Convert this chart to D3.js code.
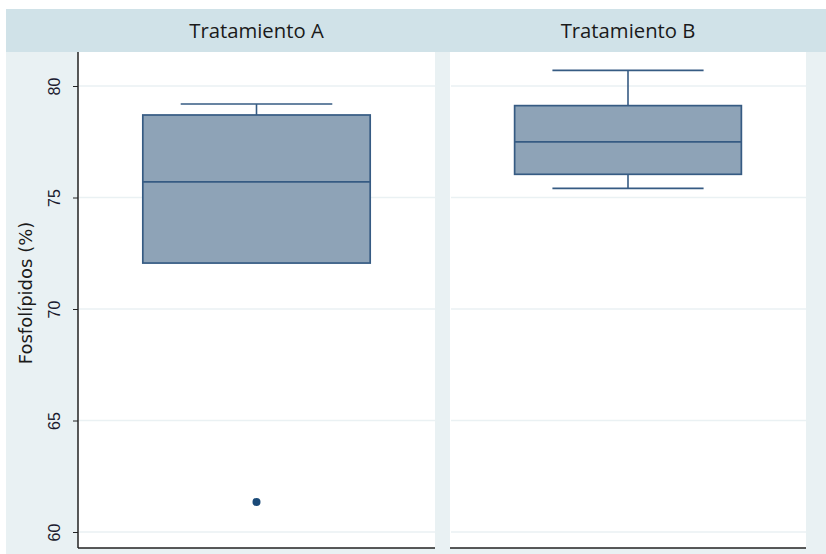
<!DOCTYPE html>
<html><head><meta charset="utf-8">
<script src="https://cdn.jsdelivr.net/npm/d3@7"></script>
<style>body{margin:0;background:#fff}svg{display:block}</style>
</head><body>
<script>
const categories = ["Tratamiento A", "Tratamiento B"];
const whiskerLow  = [72.06, 75.41];
const q1          = [72.06, 76.04];
const median      = [75.70, 77.49];
const q3          = [78.70, 79.12];
const whiskerHigh = [79.19, 80.70];
const outliers    = [[61.35], []];
const yTicks = [60, 65, 70, 75, 80];

const W = 826, H = 554;
const svg = d3.select("body").append("svg").attr("width", W).attr("height", H);

svg.append("rect").attr("x", 6).attr("y", 9).attr("width", W - 6).attr("height", H - 9).attr("fill", "#e9f1f3");
svg.append("rect").attr("x", 6).attr("y", 9).attr("width", W - 6).attr("height", 43).attr("fill", "#d0e2e8");

const plotTop = 52, plotBottom = 548;
const y = d3.scaleLinear().domain([60, 80]).range([532, 86]);

const panels = [{x0: 78, x1: 435}, {x0: 450, x1: 806}];

panels.forEach((p, i) => {
  const g = svg.append("g");
  g.append("rect").attr("x", p.x0).attr("y", plotTop).attr("width", p.x1 - p.x0).attr("height", plotBottom - plotTop).attr("fill", "#ffffff");
  g.selectAll("line.grid").data(yTicks).join("line").attr("class", "grid")
    .attr("x1", p.x0 + 1).attr("x2", p.x1).attr("y1", d => y(d)).attr("y2", d => y(d))
    .attr("stroke", "#eaf1f3").attr("stroke-width", 1.5);
  svg.append("text").attr("x", (p.x0 + p.x1) / 2).attr("y", 38)
    .attr("text-anchor", "middle").attr("font-family", "'Open Sans', sans-serif").attr("font-size", 20.3)
    .attr("fill", "#1a1a1a").text(categories[i]);

  const xb = d3.scaleBand().domain([categories[i]]).range([p.x0, p.x1]).paddingInner(0).paddingOuter(0.2222);
  const cx = xb(categories[i]) + xb.bandwidth() / 2;
  const bw = xb.bandwidth() * 0.92;
  const capW = bw * 2 / 3;
  const stroke = "#365b83";

  g.append("line").attr("x1", cx).attr("x2", cx).attr("y1", y(q3[i])).attr("y2", y(whiskerHigh[i])).attr("stroke", stroke).attr("stroke-width", 1.6);
  g.append("line").attr("x1", cx).attr("x2", cx).attr("y1", y(q1[i])).attr("y2", y(whiskerLow[i])).attr("stroke", stroke).attr("stroke-width", 1.6);
  g.append("line").attr("x1", cx - capW / 2).attr("x2", cx + capW / 2).attr("y1", y(whiskerHigh[i])).attr("y2", y(whiskerHigh[i])).attr("stroke", stroke).attr("stroke-width", 1.6);
  if (whiskerLow[i] < q1[i]) {
    g.append("line").attr("x1", cx - capW / 2).attr("x2", cx + capW / 2).attr("y1", y(whiskerLow[i])).attr("y2", y(whiskerLow[i])).attr("stroke", stroke).attr("stroke-width", 1.6);
  }
  g.append("rect").attr("x", cx - bw / 2).attr("width", bw).attr("y", y(q3[i])).attr("height", y(q1[i]) - y(q3[i]))
    .attr("fill", "#8ea3b7").attr("stroke", stroke).attr("stroke-width", 1.7);
  g.append("line").attr("x1", cx - bw / 2).attr("x2", cx + bw / 2).attr("y1", y(median[i])).attr("y2", y(median[i])).attr("stroke", stroke).attr("stroke-width", 1.8);
  g.selectAll("circle").data(outliers[i]).join("circle")
    .attr("cx", cx).attr("cy", d => y(d)).attr("r", 4).attr("fill", "#1b4a78");

  g.append("line").attr("x1", p.x0).attr("x2", p.x1).attr("y1", plotBottom).attr("y2", plotBottom).attr("stroke", "#222").attr("stroke-width", 1.5);
});

const axis = d3.axisLeft(y).tickValues(yTicks).tickSize(5).tickSizeOuter(0);
const ag = svg.append("g").attr("transform", "translate(78,0)").call(axis);
ag.select(".domain").attr("d", `M0,${plotTop}V${plotBottom}`).attr("stroke", "#222").attr("stroke-width", 1.5);
ag.selectAll(".tick line").attr("stroke", "#222");
ag.selectAll(".tick text")
  .attr("font-family", "'Liberation Sans', Arial, sans-serif").attr("font-size", 16).attr("fill", "#1a1a2e")
  .attr("text-anchor", "middle")
  .attr("x", 0).attr("y", 0).attr("dy", "0em")
  .attr("transform", "translate(-18,0) rotate(-90)");

svg.append("text").attr("transform", "translate(32,293) rotate(-90)").attr("text-anchor", "middle")
  .attr("font-family", "'DejaVu Sans', Verdana, sans-serif").attr("font-size", 18).attr("fill", "#1a1a1a")
  .text("Fosfolípidos (%)");
</script>
</body></html>
